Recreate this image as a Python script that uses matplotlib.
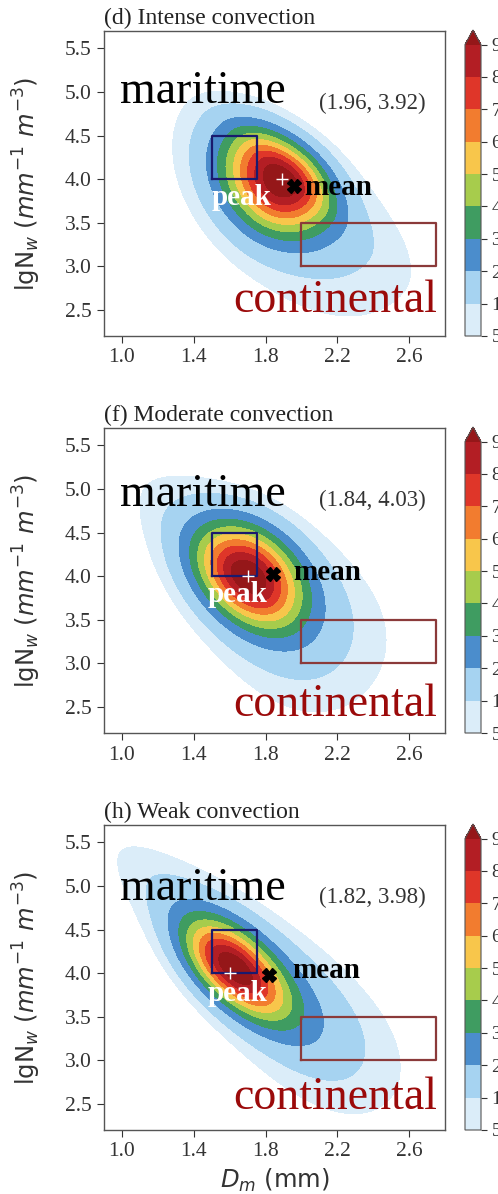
import numpy as np
import matplotlib.pyplot as plt

# panel titles and the marked statistics
titles = ["(d) Intense convection", "(f) Moderate convection", "(h) Weak convection"]
mean_dm = [1.96, 1.84, 1.82]
mean_nw = [3.92, 4.03, 3.98]
peak_dm = [1.89, 1.70, 1.60]
peak_nw = [4.00, 4.00, 4.00]

# frequency levels (%) and their colours, last colour = above 90
levels = [5, 10, 20, 30, 40, 50, 60, 70, 80, 90]
level_colors = ['#dbedf9', '#a6d3f1', '#4b8dcc', '#3f9c61', '#a7cc4c',
                '#f8c64b', '#f27c2f', '#df3629', '#b31e24', '#951719']
cbar_labels = ['5', '10', '20', '30', '40', '50', '60', '70', '80', '90']

# reference boxes (Dm0, Dm1, lgNw0, lgNw1)
maritime_box = (1.5, 1.75, 4.0, 4.5)
continental_box = (2.0, 2.75, 3.0, 3.5)

# density: orientation of the cloud and two lobes
# lobe = (Dm, lgNw, spread up-left, down-right, lower-left, upper-right, taper, weight)
axis_angle = [41, 43, 43]
core_lobes = [(1.89, 4.00, 42, 36, 33, 23, 0.0, 1.0),
              (1.70, 4.00, 39, 39, 26, 29, 0.0, 1.0),
              (1.62, 4.06, 38, 42, 20, 20, 0.0, 1.0)]
halo_lobes = [(1.95, 3.80, 81, 94, 52, 34, 0.12, 0.20),
              (1.80, 3.76, 96, 82, 43, 46, 0.20, 0.25),
              (1.74, 3.97, 100, 100, 33, 34, 0.18, 0.35)]

# label placement
maritime_y = [4.87, 4.80, 4.84]
continental_y = [2.47, 2.40, 2.44]
mean_txt = [(2.015, 3.82), (1.955, 3.955), (1.95, 3.94)]
peak_txt = [(1.50, 3.70), (1.48, 3.70), (1.475, 3.68)]

SERIF = 'Liberation Serif'
plt.rcParams['mathtext.fontset'] = 'dejavusans'


def density(dm, nw, lobes, angle):
    th = np.deg2rad(angle)
    total = np.zeros_like(dm)
    for cx, cy, s_ul, s_dr, s_ll, s_ur, taper, w in lobes:
        px = (dm - cx) * 179.0
        py = (nw - cy) * 87.0
        u = px * np.cos(th) - py * np.sin(th)
        v = px * np.sin(th) + py * np.cos(th)
        su = np.where(u < 0, s_ul, s_dr)
        sv = np.where(v < 0, s_ll, s_ur) * np.exp(taper * np.clip(u, -250, 250) / 100)
        total += w * np.exp(-0.5 * ((u / su) ** 2 + (v / sv) ** 2))
    return 100 * total / total.max()


dm_grid, nw_grid = np.meshgrid(np.linspace(0.9, 2.8, 400), np.linspace(2.2, 5.7, 400))

fig = plt.figure(figsize=(4.98, 11.94), dpi=100)
W, H = 498.0, 1194.0
tops = [31, 428, 825]

for i in range(3):
    bottom = (H - tops[i] - 305) / H
    ax = fig.add_axes([104 / W, bottom, 341 / W, 305 / H])
    cax = fig.add_axes([465 / W, bottom, 16 / W, 306 / H])

    z = density(dm_grid, nw_grid, [core_lobes[i], halo_lobes[i]], axis_angle[i])
    cs = ax.contourf(dm_grid, nw_grid, z, levels=levels, colors=level_colors, extend='max')

    x0, x1, y0, y1 = maritime_box
    ax.plot([x0, x1, x1, x0, x0], [y0, y0, y1, y1, y0], color='#1a1a6e', lw=1.6)
    x0, x1, y0, y1 = continental_box
    ax.plot([x0, x1, x1, x0, x0], [y0, y0, y1, y1, y0], color='#8b3a3a', lw=1.6)

    ax.plot(peak_dm[i], peak_nw[i], marker='+', color='white', ms=9, mew=1.0)
    ax.plot(mean_dm[i], mean_nw[i], marker='X', color='black', ms=10, mec='black')

    ax.text(mean_txt[i][0], mean_txt[i][1], 'mean', family=SERIF, fontsize=21,
            fontweight='bold', color='black')
    ax.text(peak_txt[i][0], peak_txt[i][1], 'peak', family=SERIF, fontsize=21,
            fontweight='bold', color='white')
    ax.text(0.99, maritime_y[i], 'maritime', family=SERIF, fontsize=33, color='black')
    ax.text(2.756, continental_y[i], 'continental', family=SERIF, fontsize=33,
            color='#9b0a0a', ha='right')
    ax.text(2.10, 4.80, f'({mean_dm[i]:.2f}, {mean_nw[i]:.2f})', family=SERIF,
            fontsize=16.5, color='#333333')

    ax.set_xlim(0.9, 2.8)
    ax.set_ylim(2.2, 5.7)
    ax.set_xticks([1.0, 1.4, 1.8, 2.2, 2.6])
    ax.set_yticks([2.5, 3.0, 3.5, 4.0, 4.5, 5.0, 5.5])
    ax.tick_params(labelsize=15.5, colors='#333333', length=5, width=0.8, pad=4)
    for lab in ax.get_xticklabels() + ax.get_yticklabels():
        lab.set_family(SERIF)
    for sp in ax.spines.values():
        sp.set_color('#555555')
        sp.set_linewidth(1.0)

    ax.set_title(titles[i], loc='left', family=SERIF, fontsize=17, color='#222222', pad=5)
    ax.set_ylabel(r'lgN$_{w}$ $(mm^{-1}\ m^{-3})$', fontsize=17.5, color='#333333')
    ax.yaxis.set_label_coords(-0.18, 0.5)
    if i == 2:
        ax.set_xlabel(r'$D_m$ (mm)', fontsize=17.5, color='#333333')
        ax.xaxis.set_label_coords(0.5, -0.12)

    cb = fig.colorbar(cs, cax=cax, ticks=levels)
    cb.ax.set_yticklabels(cbar_labels)
    cb.ax.tick_params(labelsize=14, colors='#333333', length=4, width=0.8)
    for lab in cb.ax.get_yticklabels():
        lab.set_family(SERIF)
    cb.outline.set_edgecolor('#555555')

fig.savefig('out.png', dpi=100)
